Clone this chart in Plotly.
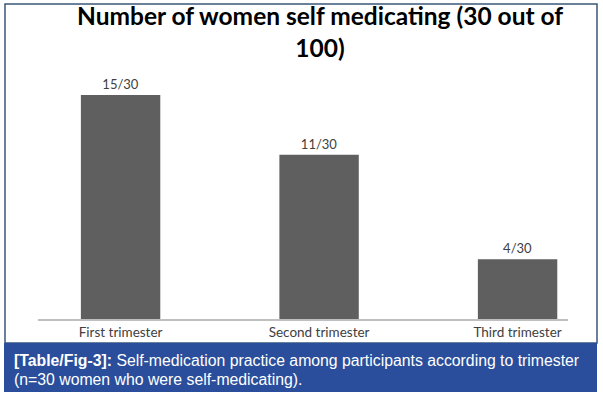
import plotly.graph_objects as go

categories = ["First trimester", "Second trimester", "Third trimester"]
values = [15, 11, 4]
total = 30
labels = [f"{v}/{total}" for v in values]

W, H = 603, 396
L, R, T, B = 38, 35, 60, 77  # plot area: x 38..568, y 60..319
pw, ph = W - L - R, H - T - B

def px(x):
    return (x - L) / pw

def py(y):
    return (H - B - y) / ph

fig = go.Figure()
fig.add_trace(go.Bar(
    x=list(range(len(categories))), y=values, width=0.4,
    marker=dict(color="#5f5f5f", line=dict(width=0)),
    text=labels, textposition="outside", cliponaxis=False,
    textfont=dict(family="Lato, Carlito, sans-serif", size=13, color="#404040"),
))

fig.update_layout(
    width=W, height=H,
    margin=dict(l=L, r=R, t=T, b=B),
    paper_bgcolor="white", plot_bgcolor="white",
    showlegend=False,
    xaxis=dict(range=[-0.416, 2.254], tickvals=[0, 1, 2], ticktext=categories,
               showline=True, linecolor="#bfbfbf", linewidth=1.5,
               showgrid=False, zeroline=False, ticks="",
               tickfont=dict(family="Lato, Carlito, sans-serif", size=13.5, color="#404040")),
    yaxis=dict(range=[0, 17.35], visible=False),
    bargap=0.6,
)

# title
fig.add_annotation(
    xref="paper", yref="paper", x=px(320), y=py(31), xanchor="center", yanchor="middle",
    text="<b>Number of women self medicating (30 out of<br>100)</b>",
    showarrow=False, align="center",
    font=dict(family="Lato, Carlito, sans-serif", size=24.5, color="#000000"),
)

# outer frame
fig.add_shape(type="rect", xref="paper", yref="paper",
              x0=px(5), x1=px(597), y0=py(343), y1=py(4),
              line=dict(color="#3a5878", width=1.5), fillcolor="rgba(0,0,0,0)", layer="below")

# caption box
fig.add_shape(type="rect", xref="paper", yref="paper",
              x0=px(4), x1=px(597), y0=py(392), y1=py(343),
              line=dict(width=0), fillcolor="#2a4e9b", layer="above")
fig.add_annotation(
    xref="paper", yref="paper", x=px(12), y=py(360), xanchor="left", yanchor="middle",
    text="<b>[Table/Fig-3]:</b> Self-medication practice among participants according to trimester",
    showarrow=False, align="left",
    font=dict(family="Liberation Sans, Arial, sans-serif", size=15.8, color="white"),
)
fig.add_annotation(
    xref="paper", yref="paper", x=px(12), y=py(379), xanchor="left", yanchor="middle",
    text="(n=30 women who were self-medicating).",
    showarrow=False, align="left",
    font=dict(family="Liberation Sans, Arial, sans-serif", size=15.8, color="white"),
)

fig.write_html("out.html", config={"displayModeBar": False},
               post_script="document.body.style.margin='0';document.body.style.overflow='hidden';")
